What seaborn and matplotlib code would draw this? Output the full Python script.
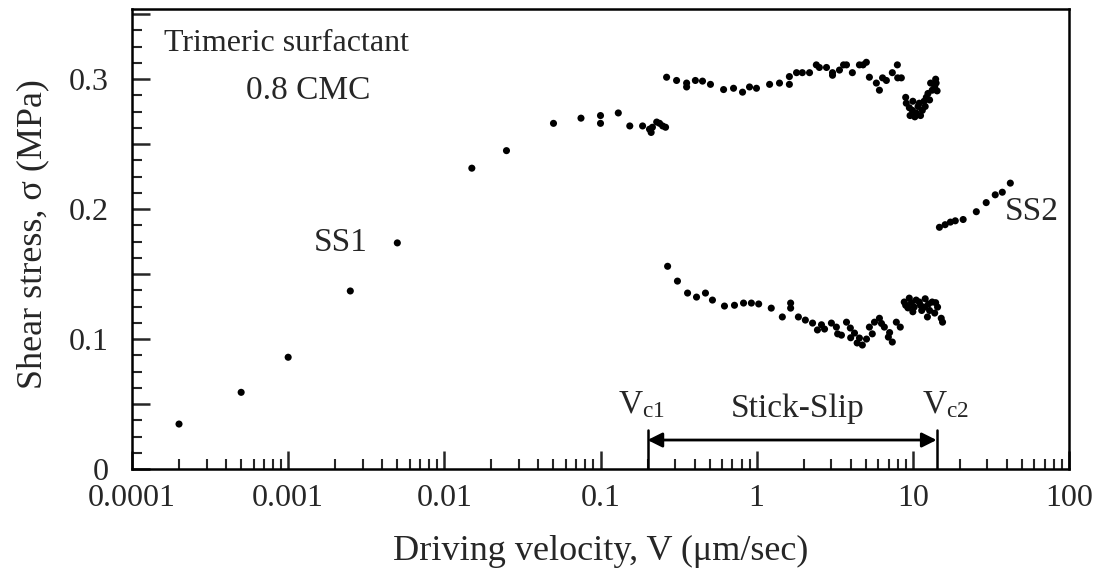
import numpy as np
import pandas as pd
import matplotlib
matplotlib.use("Agg")
import matplotlib.pyplot as plt
from matplotlib.ticker import MultipleLocator, FixedLocator, FuncFormatter, LogLocator, NullFormatter
import seaborn as sns

# ---------------- data ----------------
ss1_v = [0.0002, 0.0005, 0.001, 0.0025, 0.005, 0.015, 0.025, 0.05, 0.075, 0.1, 0.1, 0.13,
         0.154, 0.186, 0.206, 0.211, 0.215, 0.229, 0.239, 0.250, 0.261]
ss1_s = [0.0346, 0.059, 0.086, 0.137, 0.174, 0.2315, 0.245, 0.266, 0.270, 0.272, 0.266, 0.274,
         0.264, 0.264, 0.2615, 0.259, 0.263, 0.267, 0.266, 0.264, 0.263]

upper_v = [0.265, 0.307, 0.356, 0.356, 0.405, 0.450, 0.506, 0.614, 0.711, 0.812, 0.900, 0.997,
           1.21, 1.40, 1.62, 1.62, 1.80, 1.96, 2.18, 2.41, 2.52, 2.80, 3.06, 3.06, 3.39, 3.60,
           3.76, 4.10, 4.55, 4.80, 5.04, 5.27, 5.84, 6.11, 6.40, 6.77, 7.39, 7.96, 8.00, 8.44,
           9.08, 9.93, 11.0, 12.2, 13.3, 14.1, 10.5, 9.5, 10.0, 11.5, 12.0, 12.8, 13.8, 14.3,
           9.0, 10.3, 11.2, 12.5, 13.0, 14.0, 9.6, 10.8, 11.8]
upper_s = [0.3015, 0.299, 0.297, 0.294, 0.299, 0.2985, 0.296, 0.292, 0.293, 0.290, 0.294, 0.293,
           0.296, 0.297, 0.296, 0.302, 0.305, 0.305, 0.305, 0.311, 0.309, 0.309, 0.303, 0.305, 0.307, 0.311,
           0.311, 0.305, 0.311, 0.311, 0.313, 0.3015, 0.297, 0.2915, 0.301, 0.299, 0.305, 0.311, 0.301, 0.301,
           0.2815, 0.276, 0.2815, 0.286, 0.2915, 0.297, 0.274, 0.278, 0.283, 0.276, 0.279, 0.284, 0.294, 0.291,
           0.286, 0.271, 0.272, 0.289, 0.297, 0.300, 0.272, 0.279, 0.283]

lower_v = [0.269, 0.311, 0.361, 0.412, 0.470, 0.521, 0.622, 0.721, 0.824, 0.925, 1.03, 1.24,
           1.46, 1.65, 1.65, 1.85, 2.05, 2.28, 2.45, 2.60, 2.72, 3.01, 3.24, 3.30, 3.49, 3.76,
           3.98, 4.00, 4.23, 4.40, 4.55, 4.75, 5.05, 5.27, 5.50, 5.68, 6.11, 6.30, 6.57, 6.97,
           7.10, 7.39, 7.84, 8.31, 8.81, 9.49, 10.2, 11.0, 11.9, 12.4, 13.3, 14.4, 15.2, 15.5,
           9.0, 9.8, 10.5, 11.4, 12.0, 12.8, 13.8, 14.0, 10.0, 11.2, 12.6, 9.3]
lower_s = [0.156, 0.1446, 0.1354, 0.1323, 0.1354, 0.130, 0.1254, 0.126, 0.1277, 0.1277, 0.127, 0.1238,
           0.117, 0.1277, 0.1238, 0.117, 0.1146, 0.1123, 0.107, 0.111, 0.1077, 0.1123, 0.1092, 0.104, 0.103, 0.113,
           0.1085, 0.101, 0.1046, 0.097, 0.1008, 0.0954, 0.100, 0.1092, 0.104, 0.113, 0.116, 0.112, 0.1092, 0.1015,
           0.105, 0.0977, 0.113, 0.1092, 0.1285, 0.1315, 0.1246, 0.1285, 0.1246, 0.117, 0.1285, 0.1246, 0.116, 0.113,
           0.126, 0.128, 0.130, 0.122, 0.131, 0.122, 0.120, 0.128, 0.121, 0.126, 0.127, 0.124]

ss2_v = [14.8, 16.1, 17.4, 18.7, 21.0, 25.5, 29.5, 33.7, 37.4, 42.1]
ss2_s = [0.186, 0.188, 0.190, 0.191, 0.192, 0.198, 0.205, 0.211, 0.213, 0.220]

vc1 = 0.2
vc2 = 14.2

x_ticks = [0.0001, 0.001, 0.01, 0.1, 1, 10, 100]
x_tick_labels = ["0.0001", "0.001", "0.01", "0.1", "1", "10", "100"]
y_ticks = [0, 0.1, 0.2, 0.3]
y_tick_labels = ["0", "0.1", "0.2", "0.3"]

df = pd.DataFrame({
    "V": ss1_v + upper_v + lower_v + ss2_v,
    "sigma": ss1_s + upper_s + lower_s + ss2_s,
})

# ---------------- style ----------------
sns.set_style("ticks")
plt.rcParams["font.family"] = ["Liberation Serif", "DejaVu Serif"]
plt.rcParams["mathtext.fontset"] = "custom"
plt.rcParams["mathtext.rm"] = "Liberation Serif"
plt.rcParams["mathtext.it"] = "Liberation Serif"

fig = plt.figure(figsize=(11.04, 5.73), dpi=100)
ax = fig.add_axes([132 / 1104, 1 - 469 / 573, (1069 - 132) / 1104, (469 - 9) / 573])

sns.scatterplot(data=df, x="V", y="sigma", ax=ax, color="black", s=26,
                linewidth=0, edgecolor="none", legend=False)

ax.set_xscale("log")
ax.set_xlim(1e-4, 100)
ax.set_ylim(0, 0.354)

ax.xaxis.set_major_locator(FixedLocator(x_ticks))
ax.set_xticklabels(x_tick_labels)
ax.xaxis.set_minor_locator(LogLocator(base=10, subs=np.arange(2, 10)))
ax.xaxis.set_minor_formatter(NullFormatter())

ax.yaxis.set_major_locator(MultipleLocator(0.05))
lab = dict(zip([round(t, 2) for t in y_ticks], y_tick_labels))
ax.yaxis.set_major_formatter(FuncFormatter(lambda v, p: lab.get(round(v, 2), "")))
ax.yaxis.set_minor_locator(MultipleLocator(0.0125))

ax.tick_params(axis="both", which="major", direction="in", length=13, width=1.8,
               labelsize=23, top=False, right=False)
ax.tick_params(axis="both", which="minor", direction="in", length=7, width=1.5,
               top=False, right=False)
ax.tick_params(axis="y", which="major", pad=17)
ax.tick_params(axis="x", which="major", pad=11)

for sp in ax.spines.values():
    sp.set_linewidth(1.8)
    sp.set_color("black")

ax.set_xlabel("Driving velocity, V (\u03bcm/sec)", fontsize=26)
ax.set_ylabel("Shear stress, \u03c3 (MPa)", fontsize=26)
ax.xaxis.set_label_coords(0.5, -0.143)
ax.yaxis.set_label_coords(-0.088, 0.51)

# annotations
ax.text(0.165, 0.924, "Trimeric surfactant", transform=ax.transAxes, fontsize=23, ha="center", va="center")
ax.text(0.188, 0.822, "0.8 CMC", transform=ax.transAxes, fontsize=24, ha="center", va="center")
ax.text(0.223, 0.491, "SS1", transform=ax.transAxes, fontsize=24, ha="center", va="center")
ax.text(0.960, 0.559, "SS2", transform=ax.transAxes, fontsize=24, ha="center", va="center")
ax.text(0.544, 0.139, r"V$_{\mathrm{c1}}$", transform=ax.transAxes, fontsize=24, ha="center", va="center")
ax.text(0.710, 0.130, "Stick-Slip", transform=ax.transAxes, fontsize=24, ha="center", va="center")
ax.text(0.868, 0.139, r"V$_{\mathrm{c2}}$", transform=ax.transAxes, fontsize=24, ha="center", va="center")

ax.plot([vc1, vc1], [0, 0.030], color="black", lw=1.8)
ax.plot([vc2, vc2], [0, 0.030], color="black", lw=1.8)
ax.annotate("", xy=(vc1, 0.0223), xytext=(vc2, 0.0223),
            arrowprops=dict(arrowstyle="<|-|>", lw=2, color="black", shrinkA=0, shrinkB=0,
                            mutation_scale=22))

fig.savefig("out.png", dpi=100)
